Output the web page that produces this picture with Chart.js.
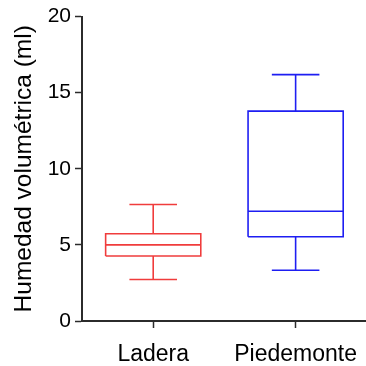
<!DOCTYPE html>
<html>
<head>
<meta charset="utf-8">
<script src="https://cdn.jsdelivr.net/npm/chart.js@4/dist/chart.umd.min.js"></script>
<style>
  html, body { margin: 0; padding: 0; background: #fff; overflow: hidden; }
  #wrap { width: 370px; height: 366px; }
</style>
</head>
<body>
<div id="wrap"><canvas id="boxChart"></canvas></div>
<script>
// Humedad volumétrica por zona
const categories = ['Ladera', 'Piedemonte'];
const whiskerLow = [2.73, 3.33];
const q1 = [4.27, 5.54];
const medians = [5.0, 7.21];
const q3 = [5.73, 13.79];
const whiskerHigh = [7.65, 16.19];
const yTicks = [0, 5, 10, 15, 20];
const colors = ['#f03c3c', '#1e1ef2'];

const BOX_HALF = 0.334;
const CAP_HALF = 0.167;
const AXIS_COLOR = '#2b2b2b';

// each box is one polyline, gaps (null y) split the pieces
function boxShape(i) {
    const gap = { x: i, y: null };
    const l = i - BOX_HALF, r = i + BOX_HALF;
    return [
        { x: l, y: q1[i] }, { x: r, y: q1[i] }, { x: r, y: q3[i] }, { x: l, y: q3[i] }, { x: l, y: q1[i] }, gap,
        { x: l, y: medians[i] }, { x: r, y: medians[i] }, gap,
        { x: i, y: q3[i] }, { x: i, y: whiskerHigh[i] }, gap,
        { x: i - CAP_HALF, y: whiskerHigh[i] }, { x: i + CAP_HALF, y: whiskerHigh[i] }, gap,
        { x: i, y: q1[i] }, { x: i, y: whiskerLow[i] }, gap,
        { x: i - CAP_HALF, y: whiskerLow[i] }, { x: i + CAP_HALF, y: whiskerLow[i] }
    ];
}

const datasets = categories.map((c, i) => ({
    label: c,
    data: boxShape(i),
    showLine: true,
    spanGaps: false,
    borderColor: colors[i],
    borderWidth: 1.6,
    borderJoinStyle: 'miter',
    borderCapStyle: 'butt',
    pointRadius: 0,
    tension: 0
}));

const ctx = document.getElementById('boxChart').getContext('2d');
new Chart(ctx, {
    type: 'scatter',
    data: { datasets },
    options: {
        responsive: true,
        maintainAspectRatio: false,
        animation: false,
        layout: { padding: { top: 15, right: 0, left: 0, bottom: 0 } },
        plugins: {
            legend: { display: false },
            tooltip: { enabled: false }
        },
        scales: {
            x: {
                type: 'linear',
                min: -0.5,
                max: 1.5,
                afterBuildTicks: scale => {
                    scale.ticks = categories.map((c, i) => ({ value: i }));
                },
                afterFit: scale => { scale.height = 45; },
                ticks: {
                    callback: v => categories[v],
                    color: '#000',
                    font: { family: 'Liberation Sans, Arial', size: 23 },
                    padding: 13,
                    maxRotation: 0
                },
                grid: {
                    drawOnChartArea: false,
                    drawTicks: true,
                    tickLength: 7,
                    tickWidth: 1.5,
                    color: AXIS_COLOR
                },
                border: { display: true, color: AXIS_COLOR, width: 2 }
            },
            y: {
                min: 0,
                max: 20,
                afterBuildTicks: scale => {
                    scale.ticks = yTicks.map(v => ({ value: v }));
                },
                afterFit: scale => { scale.width = 82; },
                ticks: {
                    color: '#000',
                    font: { family: 'Liberation Sans, Arial', size: 21 },
                    padding: 4
                },
                grid: {
                    drawOnChartArea: false,
                    drawTicks: true,
                    tickLength: 7,
                    tickWidth: 1.5,
                    color: AXIS_COLOR
                },
                border: { display: true, color: AXIS_COLOR, width: 2 },
                title: {
                    display: true,
                    text: 'Humedad volumétrica (ml)',
                    color: '#000',
                    font: { family: 'Liberation Sans, Arial', size: 24.5 },
                    padding: { top: 10, bottom: 0 }
                }
            }
        }
    }
});
</script>
</body>
</html>
